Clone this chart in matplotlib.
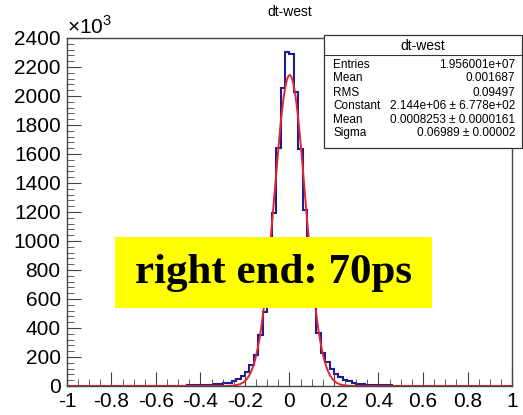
import numpy as np
import matplotlib
matplotlib.use("Agg")
import matplotlib.pyplot as plt
from matplotlib.patches import Rectangle
from matplotlib.lines import Line2D

plt.rcParams['font.family'] = ['Liberation Sans', 'DejaVu Sans']
plt.rcParams['mathtext.fontset'] = 'custom'
plt.rcParams['mathtext.rm'] = 'Liberation Sans'

# histogram dt-west, 100 bins on [-1, 1], counts in units of 10^3
counts_left = [0.4, 0.4, 0.4, 0.5, 0.5, 0.5, 0.6, 0.6, 0.6, 0.7,
               0.7, 0.8, 0.8, 0.9, 0.9, 1.0, 1.1, 1.2, 1.3, 1.4,
               1.5, 1.7, 1.9, 2.1, 2.4, 2.7, 3.1, 3.6, 4.2, 5.0,
               6.0, 7.2, 8.8, 11, 14, 18, 24, 33, 47, 69,
               97, 143, 212, 352, 512, 810, 1195, 1643, 2057, 2300]
counts_right = [2290, 2030, 1634, 1214, 830, 555, 365, 225, 165, 120,
                82, 60, 42, 31, 23, 17, 13, 10, 8.0, 6.5,
                5.3, 4.4, 3.7, 3.1, 2.6, 2.2, 1.9, 1.7, 1.5, 1.3,
                1.2, 1.1, 1.0, 0.9, 0.8, 0.8, 0.7, 0.7, 0.6, 0.6,
                0.5, 0.5, 0.5, 0.4, 0.4, 0.4, 0.4, 0.3, 0.3, 0.3]
counts = counts_left + counts_right

# gaus fit parameters (from stats box)
fit_const = 2.144e6
fit_mean = 0.0008253
fit_sigma = 0.06989

stat_names = ["Entries", "Mean", "RMS", "Constant", "Mean", "Sigma"]
stat_values = ["1.956001e+07", "0.001687", "0.09497",
               "2.144e+06 \u00b1 6.778e+02", "0.0008253 \u00b1 0.0000161",
               "0.06989 \u00b1 0.00002"]

fig = plt.figure(figsize=(5.23, 4.15), dpi=100)
ax = fig.add_axes([0.128, 0.0699, 0.851, 0.8386])

edges = np.linspace(-1, 1, len(counts) + 1)
ax.stairs(counts, edges, color='#1c1c96', linewidth=1.5)

xf = np.linspace(-1, 1, 1500)
yf = fit_const * np.exp(-0.5 * ((xf - fit_mean) / fit_sigma) ** 2) / 1000.0
ax.plot(xf, yf, color='#e8232a', linewidth=1.4)

ax.set_xlim(-1, 1)
ax.set_ylim(0, 2400)
ax.set_xticks(np.arange(-1, 1.01, 0.2))
ax.set_xticklabels(["-1", "-0.8", "-0.6", "-0.4", "-0.2", "0", "0.2", "0.4", "0.6", "0.8", "1"])
ax.set_xticks(np.arange(-1, 1.001, 0.05), minor=True)
ax.set_yticks(np.arange(0, 2401, 200))
ax.set_yticks(np.arange(0, 2401, 40), minor=True)
ax.tick_params(axis='both', which='both', direction='in', labelsize=15, color='#444444')
ax.tick_params(axis='x', which='major', length=10, pad=4)
ax.tick_params(axis='x', which='minor', length=5)
ax.tick_params(axis='y', which='major', length=10, pad=4.5)
ax.tick_params(axis='y', which='minor', length=5)
for s in ax.spines.values():
    s.set_color('#444444')
    s.set_linewidth(1.0)

fig.text(0.128, 0.918, r'$\times10^{3}$', fontsize=15, ha='left', va='baseline')
fig.text(0.554, 0.971, "dt-west", fontsize=10, ha='center', va='center')

# stats box
box = Rectangle((0.6195, 0.643), 0.378, 0.273, transform=fig.transFigure,
                facecolor='white', edgecolor='#333333', linewidth=0.9, zorder=5)
fig.patches.append(box)
fig.lines.append(Line2D([0.6195, 0.9975], [0.8675, 0.8675], transform=fig.transFigure,
                        color='#333333', linewidth=0.8, zorder=6))
fig.text(0.809, 0.889, "dt-west", fontsize=10, ha='center', va='center', zorder=7)
row_y = [0.843, 0.811, 0.777, 0.745, 0.711, 0.680]
for name, val, yy in zip(stat_names, stat_values, row_y):
    fig.text(0.637, yy, name, fontsize=8.5, ha='left', va='center', zorder=7)
    fig.text(0.985, yy, val, fontsize=8.5, ha='right', va='center', zorder=7)

# yellow annotation
note = Rectangle((0.220, 0.258), 0.606, 0.171, transform=fig.transFigure,
                 facecolor='#ffff00', edgecolor='none', zorder=8)
fig.patches.append(note)
fig.text(0.523, 0.343, "right end: 70ps", fontsize=31, fontweight='bold',
         family='Liberation Serif', ha='center', va='center', zorder=9)

fig.savefig("out.png", dpi=100)
